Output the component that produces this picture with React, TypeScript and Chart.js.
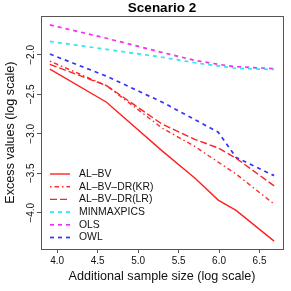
import React, { useEffect, useRef } from "react";
import { Chart, registerables } from "chart.js";

Chart.register(...registerables);

// log(sample size) values
const xValues = [3.91, 4.61, 5.30, 5.70, 5.99, 6.21, 6.68];

const alBv = [-2.18, -2.60, -3.22, -3.56, -3.84, -3.97, -4.36];
const alBvDrKr = [-2.08, -2.39, -2.93, -3.16, -3.36, -3.51, -3.89];
const alBvDrLr = [-2.12, -2.39, -2.88, -3.07, -3.18, -3.31, -3.66];
const minmaxpics = [-1.83, -1.93, -2.03, -2.10, -2.14, -2.17, -2.185];
const ols = [-1.62, -1.79, -1.97, -2.07, -2.12, -2.15, -2.175];
const owl = [-1.99, -2.27, -2.60, -2.82, -2.98, -3.30, -3.53];

const seriesLabels = ["AL–BV", "AL–BV–DR(KR)", "AL–BV–DR(LR)", "MINMAXPICS", "OLS", "OWL"];

const xTicks = [4.0, 4.5, 5.0, 5.5, 6.0, 6.5];
const yTicks = [-4.0, -3.5, -3.0, -2.5, -2.0];

const FONT = "'Liberation Sans', Arial, Helvetica, sans-serif";

const fmt = (v: number) => v.toFixed(1).replace("-", "\u2212");

const boxPlugin = {
  id: "boxPlugin",
  afterDraw(chart: any) {
    const { ctx, chartArea } = chart;
    ctx.save();
    ctx.strokeStyle = "#555";
    ctx.lineWidth = 1;
    ctx.strokeRect(
      Math.round(chartArea.left) + 0.5,
      Math.round(chartArea.top) + 0.5,
      Math.round(chartArea.right - chartArea.left),
      Math.round(chartArea.bottom - chartArea.top)
    );
    ctx.restore();
  },
};

const legendPlugin = {
  id: "insideLegend",
  afterDraw(chart: any) {
    const { ctx, chartArea } = chart;
    const ds = chart.data.datasets;
    ctx.save();
    ctx.font = `10.4px ${FONT}`;
    ctx.textBaseline = "middle";
    ctx.textAlign = "left";
    const x0 = chartArea.left + 9;
    const x1 = chartArea.left + 29;
    const tx = chartArea.left + 38;
    let y = chartArea.bottom - 75;
    ds.forEach((d: any) => {
      ctx.beginPath();
      ctx.strokeStyle = d.borderColor;
      ctx.lineWidth = d.borderWidth;
      ctx.setLineDash(d.borderDash || []);
      ctx.moveTo(x0, y);
      ctx.lineTo(x1, y);
      ctx.stroke();
      ctx.setLineDash([]);
      ctx.fillStyle = "#111";
      ctx.fillText(d.label, tx, y);
      y += 12.7;
    });
    ctx.restore();
  },
};

export default function App() {
  const ref = useRef<HTMLCanvasElement | null>(null);

  useEffect(() => {
    if (!ref.current) return;
    const mk = (data: number[]) => data.map((v, i) => ({ x: xValues[i], y: v }));
    const chart = new Chart(ref.current, {
      type: "line",
      data: {
        datasets: [
          { label: seriesLabels[0], data: mk(alBv), borderColor: "#ff2020", borderWidth: 1.4, borderDash: [] },
          { label: seriesLabels[1], data: mk(alBvDrKr), borderColor: "#ff2a2a", borderWidth: 1.4, borderDash: [1.5, 3, 4.5, 3] },
          { label: seriesLabels[2], data: mk(alBvDrLr), borderColor: "#ff2020", borderWidth: 1.4, borderDash: [7, 3] },
          { label: seriesLabels[3], data: mk(minmaxpics), borderColor: "#30e6f0", borderWidth: 1.7, borderDash: [4, 4] },
          { label: seriesLabels[4], data: mk(ols), borderColor: "#f030f0", borderWidth: 1.7, borderDash: [4, 4] },
          { label: seriesLabels[5], data: mk(owl), borderColor: "#3333ff", borderWidth: 1.7, borderDash: [4, 4] },
        ] as any,
      },
      options: {
        animation: false,
        responsive: false,
        maintainAspectRatio: false,
        elements: { point: { radius: 0 }, line: { tension: 0, fill: false } },
        layout: { padding: { top: 0, right: 8, left: 0, bottom: 0 } },
        plugins: {
          legend: { display: false },
          tooltip: { enabled: false },
          title: {
            display: true,
            text: "Scenario 2",
            fullSize: false,
            color: "#000",
            font: { family: FONT, size: 13.5, weight: "bold" },
            padding: { top: 0, bottom: 0 },
          },
        },
        scales: {
          x: {
            type: "linear",
            min: 3.80,
            max: 6.79,
            afterFit: (s: any) => {
              s.height = 42;
            },
            afterBuildTicks: (s: any) => {
              s.ticks = xTicks.map((v) => ({ value: v }));
            },
            grid: { display: true, drawOnChartArea: false, drawTicks: true, tickLength: 4, color: "#555" },
            border: { display: false },
            ticks: {
              color: "#111",
              font: { family: FONT, size: 10 },
              padding: 2.5,
              maxRotation: 0,
              autoSkip: false,
              callback: (v: any) => fmt(Number(v)),
            },
            title: {
              display: true,
              text: "Additional sample size (log scale)",
              color: "#111",
              font: { family: FONT, size: 12.6 },
              padding: { top: 0, bottom: 6.8 },
            },
          },
          y: {
            type: "linear",
            min: -4.46,
            max: -1.51,
            afterFit: (s: any) => {
              s.width = 41;
            },
            afterBuildTicks: (s: any) => {
              s.ticks = yTicks.map((v) => ({ value: v }));
            },
            grid: { display: true, drawOnChartArea: false, drawTicks: true, tickLength: 4, color: "#555" },
            border: { display: false },
            ticks: {
              color: "#111",
              font: { family: FONT, size: 10 },
              padding: -4,
              minRotation: 90,
              maxRotation: 90,
              crossAlign: "center",
              autoSkip: false,
              callback: (v: any) => fmt(Number(v)),
            },
            title: {
              display: true,
              text: "Excess values (log scale)",
              color: "#111",
              font: { family: FONT, size: 12.6 },
              padding: { top: 3.4, bottom: 0 },
            },
          },
        },
      } as any,
      plugins: [boxPlugin, legendPlugin],
    });
    return () => chart.destroy();
  }, []);

  return (
    <div style={{ position: "fixed", left: 0, top: 0, width: 291, height: 291, background: "#fff" }}>
      <canvas ref={ref} width={291} height={291} style={{ display: "block", width: 291, height: 291 }} />
    </div>
  );
}
